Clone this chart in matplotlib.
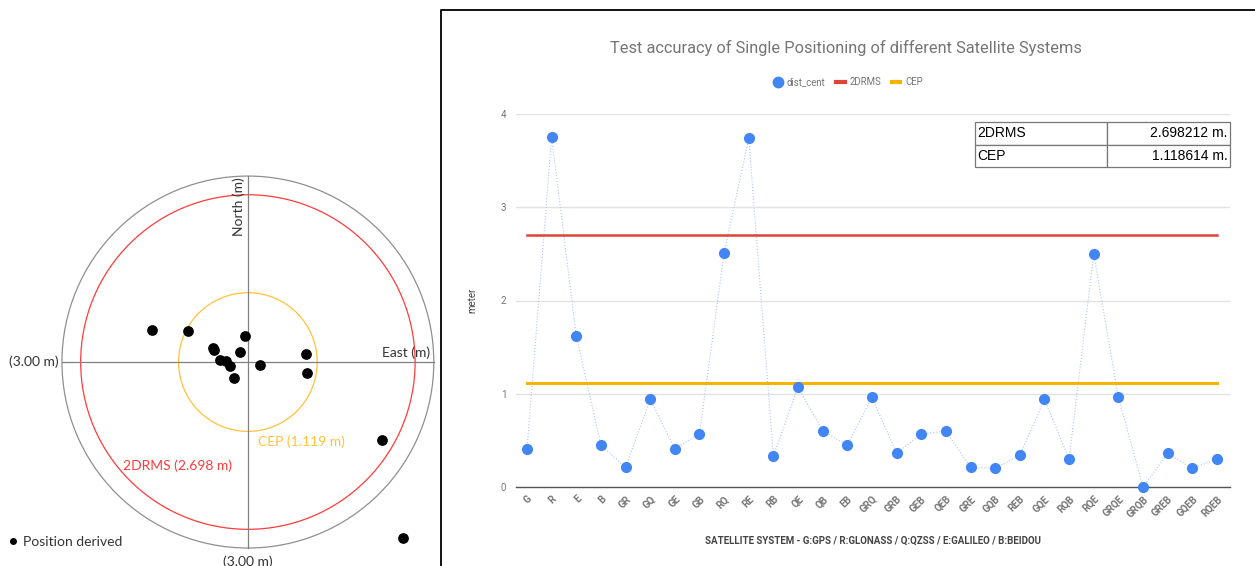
import matplotlib
matplotlib.use("Agg")
import matplotlib.pyplot as plt
from matplotlib.patches import Circle
from matplotlib.lines import Line2D

# --- left panel: scatter of derived positions (metres, east/north) ---
pos_east = [-1.55, -0.97, -0.04, -0.56, -0.54, -0.12, -0.45, -0.36, -0.29, -0.22, 0.20, 0.94, 0.95, 2.16, 2.50]
pos_north = [0.51, 0.50, 0.42, 0.23, 0.19, 0.17, 0.03, 0.01, -0.06, -0.26, -0.05, 0.13, -0.18, -1.26, -2.84]
outer_r = 3.00

# --- right panel: distance to centroid per satellite combination ---
systems = ["G", "R", "E", "B", "GR", "GQ", "GE", "GB", "RQ", "RE", "RB", "QE", "QB", "EB",
           "GRQ", "GRB", "GEB", "QEB", "GRE", "GQB", "REB", "GQE", "RQB", "RQE",
           "GRQE", "GRQB", "GREB", "GQEB", "RQEB"]
dist_cent = [0.41, 3.75, 1.62, 0.45, 0.21, 0.94, 0.41, 0.57, 2.51, 3.74, 0.33, 1.07, 0.60, 0.45,
             0.96, 0.36, 0.57, 0.60, 0.21, 0.20, 0.34, 0.94, 0.30, 2.50,
             0.96, 0.00, 0.36, 0.20, 0.30]
twodrms = 2.698212
cep = 1.118614
yticks = [0, 1, 2, 3, 4]

BLUE = "#4285f4"
RED = "#db4437"
ORANGE = "#f4b400"
GREY_TXT = "#757575"

fig = plt.figure(figsize=(12.55, 5.66), dpi=100)
W, H = 1255, 566

# ---------------- left panel ----------------
axl = fig.add_axes([0, 0, 440 / W, 1])
axl.set_xlim(-4.0, 3.1)
axl.set_ylim(-3.29, 5.84)
axl.axis("off")

axl.add_patch(Circle((0, 0), outer_r, fill=False, ec="#8f8f8f", lw=0.9))
axl.add_patch(Circle((0, 0), twodrms, fill=False, ec="#ff3b3b", lw=0.9))
axl.add_patch(Circle((0, 0), cep, fill=False, ec="#ffc23a", lw=0.9))
axl.plot([-outer_r, outer_r], [0, 0], color="#808080", lw=0.9)
axl.plot([0, 0], [-outer_r, outer_r], color="#808080", lw=0.9)
axl.scatter(pos_east, pos_north, s=45, color="black", zorder=3, clip_on=False)

lfont = dict(family="Lato", fontsize=10, color="#333333")
axl.text(-0.14, 2.5, "North (m)", rotation=90, ha="center", va="center", **lfont)
axl.text(2.94, 0.05, "East (m)", ha="right", va="bottom", **lfont)
axl.text(-3.05, 0, f"({outer_r:.2f} m)", ha="right", va="center", **lfont)
axl.text(0, -3.12, f"({outer_r:.2f} m)", ha="center", va="top", **lfont)
axl.text(0.16, -1.29, f"CEP ({cep:.3f} m)", ha="left", va="center",
         family="Lato", fontsize=10, color="#ffc23a")
axl.text(-2.02, -1.68, f"2DRMS ({twodrms:.3f} m)", ha="left", va="center",
         family="Lato", fontsize=10, color="#ff3b3b")
axl.legend(handles=[Line2D([], [], ls="none", marker="o", ms=4, color="black", label="Position derived")],
           loc="center left", bbox_to_anchor=(2 / W, 1 - 542 / H), bbox_transform=fig.transFigure,
           frameon=False, handlelength=0.6, handletextpad=0.4, borderpad=0,
           prop=dict(family="Lato", size=10))
for t in axl.get_legend().get_texts():
    t.set_color("#333333")

# ---------------- right panel ----------------
fig.add_artist(Line2D([441 / W, 441 / W, 1], [0, 1 - 10 / H, 1 - 10 / H],
                      color="black", lw=1.3, transform=fig.transFigure))

axr = fig.add_axes([516 / W, 79 / H, 714 / W, 373 / H])
x = list(range(len(systems)))
axr.set_xlim(-0.446, 28.53)
axr.set_ylim(0, 4)
for s in ["top", "right", "left"]:
    axr.spines[s].set_visible(False)
axr.spines["bottom"].set_color("#555555")
axr.spines["bottom"].set_linewidth(1.0)
axr.set_yticks(yticks)
axr.grid(axis="y", color="#e2e2e2", lw=1.0)
axr.set_axisbelow(True)
axr.tick_params(axis="y", length=0, pad=7, labelsize=7, labelcolor=GREY_TXT)
axr.tick_params(axis="x", length=0, pad=5)
axr.set_xticks(x)
axr.set_xticklabels(systems, rotation=45, ha="right", rotation_mode="anchor",
                    fontsize=7, color=GREY_TXT, fontweight="bold", family="Roboto")
for lab in axr.get_yticklabels():
    lab.set_family("Roboto")

axr.plot(x, dist_cent, color="#a9c6fb", lw=0.8, ls=":", zorder=2)
axr.plot([x[0], x[-1]], [twodrms, twodrms], color=RED, lw=1.8, zorder=3, label="2DRMS")
axr.plot([x[0], x[-1]], [cep, cep], color=ORANGE, lw=2.2, zorder=3, label="CEP")
axr.plot(x, dist_cent, ls="none", marker="o", ms=7, color=BLUE, zorder=4, clip_on=False)

axr.set_ylabel("meter", family="Roboto", fontsize=7, color="#444444", labelpad=17)
axr.set_xlabel("SATELLITE SYSTEM - G:GPS / R:GLONASS / Q:QZSS / E:GALILEO / B:BEIDOU",
               family="Roboto", fontsize=7, fontweight="bold", color="#444444", labelpad=12)

fig.text(846 / W, 1 - 48 / H, "Test accuracy of Single Positioning of different Satellite Systems",
         ha="center", va="center", family="Roboto", fontsize=11.8, color=GREY_TXT)

handles = [Line2D([], [], ls="none", marker="o", ms=7.5, color=BLUE, label="dist_cent"),
           Line2D([], [], color=RED, lw=3, label="2DRMS"),
           Line2D([], [], color=ORANGE, lw=3, label="CEP")]
leg = fig.legend(handles=handles, loc="center", bbox_to_anchor=(848 / W, 1 - 82 / H), ncol=3,
                 frameon=False, handlelength=0.9, handletextpad=0.5, columnspacing=1.1,
                 prop=dict(family="Roboto", size=6.9))
for t in leg.get_texts():
    t.set_color(GREY_TXT)

# summary table
axt = fig.add_axes([975 / W, 1 - 167 / H, 255 / W, 45 / H])
axt.axis("off")
table_labels = ["2DRMS", "CEP"]
table_values = [f"{twodrms:.6f} m.", f"{cep:.6f} m."]
tbl = axt.table(cellText=[[a, b] for a, b in zip(table_labels, table_values)],
                colWidths=[132 / 255, 123 / 255], bbox=[0, 0, 1, 1])
tbl.auto_set_font_size(False)
for (r, c), cell in tbl.get_celld().items():
    cell.set_edgecolor("#777777")
    cell.set_linewidth(0.9)
    cell.get_text().set_fontsize(10)
    cell.get_text().set_family("Liberation Sans")
    cell.get_text().set_ha("left" if c == 0 else "right")
    cell.PAD = 0.02

fig.savefig("out.png", dpi=100)
